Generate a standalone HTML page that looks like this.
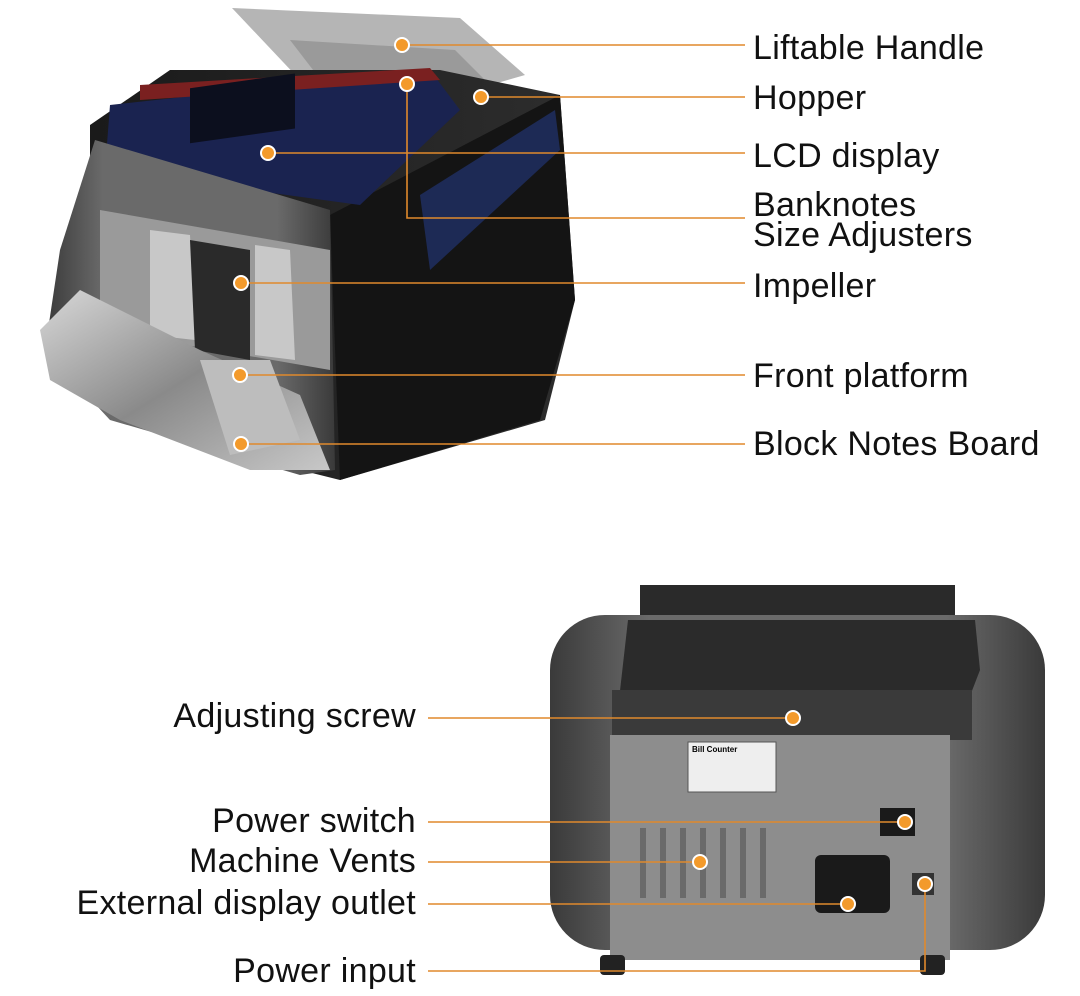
<!DOCTYPE html>
<html><head><meta charset="utf-8"><style>
html,body{margin:0;padding:0;background:#fff;}
body{width:1080px;height:996px;position:relative;overflow:hidden;font-family:"Liberation Sans",sans-serif;}
.l{position:absolute;font-size:34px;letter-spacing:0.3px;color:#111;line-height:32px;white-space:nowrap;}
.r{text-align:right;right:664px;}
svg{position:absolute;left:0;top:0;}
</style></head><body>
<svg width="1080" height="996" viewBox="0 0 1080 996">
<defs>
<linearGradient id="sil" x1="0" y1="0" x2="1" y2="1"><stop offset="0" stop-color="#d8d8d8"/><stop offset="0.5" stop-color="#8a8a8a"/><stop offset="1" stop-color="#c8c8c8"/></linearGradient>
<linearGradient id="blk" x1="0" y1="0" x2="1" y2="0"><stop offset="0" stop-color="#1a1a1a"/><stop offset="1" stop-color="#2d2d2d"/></linearGradient>
<linearGradient id="gry" x1="0" y1="0" x2="1" y2="0"><stop offset="0" stop-color="#3a3a3a"/><stop offset="0.2" stop-color="#6a6a6a"/><stop offset="0.8" stop-color="#6a6a6a"/><stop offset="1" stop-color="#3a3a3a"/></linearGradient>
</defs>
<polygon points="232,8 460,18 525,75 455,95 300,80" fill="#b5b5b5"/>
<polygon points="290,40 455,50 500,95 330,92" fill="#9a9a9a"/>
<polygon points="90,125 170,70 440,70 560,95 575,300 545,420 340,480 300,470 330,220 90,170" fill="url(#blk)"/>
<polygon points="330,215 560,95 575,300 540,420 340,480" fill="#141414"/>
<polygon points="420,195 555,110 560,150 430,270" fill="#1d2a55"/>
<polygon points="110,105 430,70 460,110 360,205 105,170" fill="#1a2350"/>
<polygon points="140,85 430,68 440,80 140,100" fill="#7a2020"/>
<rect x="190" y="115" width="105" height="55" fill="#0c0f1e" transform="skewY(-8)"/>
<polygon points="60,250 95,140 330,210 335,470 300,475 110,420 45,350" fill="url(#gry)"/>
<polygon points="100,210 330,250 330,370 100,330" fill="#9a9a9a"/>
<polygon points="150,230 190,235 195,340 150,335" fill="#c8c8c8"/>
<polygon points="255,245 290,250 295,360 255,355" fill="#c8c8c8"/>
<polygon points="190,240 250,250 250,360 195,350" fill="#2a2a2a"/>
<polygon points="40,330 80,290 200,350 300,395 330,470 250,470 120,420 50,380" fill="url(#sil)"/>
<polygon points="200,360 270,360 300,440 230,455" fill="#bdbdbd"/>
<polygon points="640,585 955,585 955,640 640,640" fill="#2a2a2a"/>
<rect x="550" y="615" width="495" height="335" rx="55" fill="url(#gry)"/>
<polygon points="628,620 975,620 980,670 955,735 615,735" fill="#2b2b2b"/>
<rect x="612" y="690" width="360" height="50" fill="#3a3a3a"/>
<rect x="610" y="735" width="340" height="225" fill="#8d8d8d"/>
<rect x="688" y="742" width="88" height="50" fill="#eee" stroke="#555"/>
<text x="692" y="752" font-size="8" font-family="Liberation Sans" font-weight="bold">Bill Counter</text>
<g fill="#6a6a6a">
<rect x="640" y="828" width="6" height="70"/><rect x="660" y="828" width="6" height="70"/><rect x="680" y="828" width="6" height="70"/><rect x="700" y="828" width="6" height="70"/><rect x="720" y="828" width="6" height="70"/><rect x="740" y="828" width="6" height="70"/><rect x="760" y="828" width="6" height="70"/>
</g>
<rect x="815" y="855" width="75" height="58" rx="6" fill="#1a1a1a"/>
<rect x="880" y="808" width="35" height="28" fill="#1a1a1a"/>
<rect x="912" y="873" width="22" height="22" fill="#333"/>
<rect x="600" y="955" width="25" height="20" rx="4" fill="#222"/>
<rect x="920" y="955" width="25" height="20" rx="4" fill="#222"/>
<g stroke="#e0892c" stroke-width="1.6" fill="none">
<line x1="402" y1="45" x2="745" y2="45"/>
<line x1="481" y1="97" x2="745" y2="97"/>
<line x1="268" y1="153" x2="745" y2="153"/>
<polyline points="407,84 407,218 745,218"/>
<line x1="241" y1="283" x2="745" y2="283"/>
<line x1="240" y1="375" x2="745" y2="375"/>
<line x1="241" y1="444" x2="745" y2="444"/>
<line x1="428" y1="718" x2="793" y2="718"/>
<line x1="428" y1="822" x2="905" y2="822"/>
<line x1="428" y1="862" x2="700" y2="862"/>
<line x1="428" y1="904" x2="848" y2="904"/>
<polyline points="428,971 925,971 925,884"/>
</g>
<g fill="#f39a2b" stroke="#fff" stroke-width="2">
<circle cx="402" cy="45" r="7"/><circle cx="481" cy="97" r="7"/><circle cx="268" cy="153" r="7"/><circle cx="407" cy="84" r="7"/>
<circle cx="241" cy="283" r="7"/><circle cx="240" cy="375" r="7"/><circle cx="241" cy="444" r="7"/>
<circle cx="793" cy="718" r="7"/><circle cx="905" cy="822" r="7"/><circle cx="700" cy="862" r="7"/><circle cx="848" cy="904" r="7"/><circle cx="925" cy="884" r="7"/>
</g>
</svg>
<div class="l" style="left:753px;top:32px">Liftable Handle</div>
<div class="l" style="left:753px;top:82px">Hopper</div>
<div class="l" style="left:753px;top:140px">LCD display</div>
<div class="l" style="left:753px;top:190px;line-height:30px">Banknotes<br>Size Adjusters</div>
<div class="l" style="left:753px;top:270px">Impeller</div>
<div class="l" style="left:753px;top:360px">Front platform</div>
<div class="l" style="left:753px;top:428px">Block Notes Board</div>
<div class="l r" style="top:700px">Adjusting screw</div>
<div class="l r" style="top:805px">Power switch</div>
<div class="l r" style="top:845px">Machine Vents</div>
<div class="l r" style="top:887px">External display outlet</div>
<div class="l r" style="top:955px">Power input</div>
</body></html>
